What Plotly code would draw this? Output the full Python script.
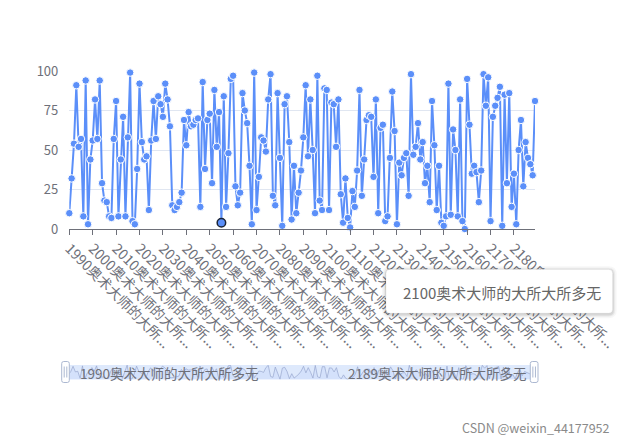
import plotly.graph_objects as go

# ---------------- data ----------------
years = list(range(1990, 2190))
categories = [f"{y}奥术大师的大所大所多无" for y in years]

values = [
    10, 32, 54, 91, 52, 57, 8, 94, 3, 44,
    56, 82, 57, 94, 29, 18, 17, 8, 7, 57,
    81, 8, 44, 71, 8, 58, 99, 5, 3, 38,
    92, 55, 44, 46, 12, 56, 81, 57, 84, 79,
    71, 92, 82, 65, 15, 12, 14, 17, 23, 69,
    53, 74, 65, 66, 69, 70, 14, 93, 38, 69,
    73, 29, 88, 52, 74, 4, 84, 14, 48, 95,
    97, 27, 15, 23, 86, 75, 67, 40, 3, 99,
    12, 33, 58, 56, 49, 82, 98, 21, 15, 86,
    45, 2, 79, 84, 55, 6, 40, 10, 23, 37,
    58, 91, 46, 82, 50, 10, 97, 18, 12, 89,
    88, 12, 80, 79, 52, 82, 22, 4, 32, 7,
    1, 24, 14, 37, 88, 21, 44, 69, 72, 71,
    33, 82, 10, 64, 66, 5, 8, 45, 87, 62,
    3, 42, 34, 45, 48, 21, 98, 47, 52, 67,
    44, 55, 29, 40, 17, 81, 53, 12, 40, 4,
    2, 8, 92, 9, 63, 50, 8, 82, 5, 0,
    95, 66, 35, 40, 36, 17, 37, 98, 78, 96,
    5, 71, 78, 83, 90, 2, 85, 29, 86, 14,
    35, 3, 50, 69, 27, 55, 45, 41, 34, 81,
]

tick_values = categories[::10]
tick_labels = [c[:11] + "..." for c in tick_values]
y_ticks = [0, 25, 50, 75, 100]
highlight_index = 65
tooltip_text = "2100奥术大师的大所大所多无"
slider_start_label = categories[0]
slider_end_label = categories[-1]
watermark = "CSDN @weixin_44177952"

# ---------------- layout helpers ----------------
W, H = 626, 443
FONT = "Noto Sans CJK SC"
LINE_COLOR = "#5b8ff9"
AXIS_TEXT = "#6E7079"


def fx(x):
    return x / W


def fy(y):
    return 1 - y / H


def rrect(x0, y0, x1, y1, r):
    # rounded rectangle path in paper coordinates (pixel inputs)
    pts = [
        f"M {fx(x0 + r)} {fy(y0)}",
        f"L {fx(x1 - r)} {fy(y0)}",
        f"Q {fx(x1)} {fy(y0)} {fx(x1)} {fy(y0 + r)}",
        f"L {fx(x1)} {fy(y1 - r)}",
        f"Q {fx(x1)} {fy(y1)} {fx(x1 - r)} {fy(y1)}",
        f"L {fx(x0 + r)} {fy(y1)}",
        f"Q {fx(x0)} {fy(y1)} {fx(x0)} {fy(y1 - r)}",
        f"L {fx(x0)} {fy(y0 + r)}",
        f"Q {fx(x0)} {fy(y0)} {fx(x0 + r)} {fy(y0)}",
        "Z",
    ]
    return " ".join(pts)


fig = go.Figure()

# main line
fig.add_trace(go.Scatter(
    x=categories, y=values, mode="lines+markers",
    line=dict(color=LINE_COLOR, width=2),
    marker=dict(size=7.5, color=LINE_COLOR, line=dict(color="white", width=1)),
    cliponaxis=False, hoverinfo="skip", xaxis="x", yaxis="y",
))
# emphasised point
fig.add_trace(go.Scatter(
    x=[categories[highlight_index]], y=[values[highlight_index]], mode="markers",
    marker=dict(size=8.5, color=LINE_COLOR, line=dict(color="#1b2437", width=1.5)),
    cliponaxis=False, hoverinfo="skip", xaxis="x", yaxis="y",
))
# data shadow for slider
fig.add_trace(go.Scatter(
    x=categories, y=values, mode="lines",
    line=dict(color="rgba(150,165,205,0.85)", width=0.8),
    fill="tozeroy", fillcolor="rgba(143,176,247,0.12)",
    hoverinfo="skip", xaxis="x2", yaxis="y2",
))

shapes = []
# slider band
shapes.append(dict(type="rect", xref="paper", yref="paper",
                   x0=fx(65.5), x1=fx(534), y0=fy(379.5), y1=fy(365),
                   fillcolor="rgba(135,175,244,0.28)", line=dict(width=0), layer="below"))
# slider handles
for hx0, hx1 in [(61.7, 69.3), (530.3, 538)]:
    shapes.append(dict(type="path", xref="paper", yref="paper",
                       path=rrect(hx0, 361.5, hx1, 382.5, 2),
                       fillcolor="white", line=dict(color="#ACB8D1", width=1), layer="above"))
    cx = (hx0 + hx1) / 2
    for dx in (-1.3, 1.3):
        shapes.append(dict(type="line", xref="paper", yref="paper",
                           x0=fx(cx + dx), x1=fx(cx + dx), y0=fy(366.5), y1=fy(377.5),
                           line=dict(color="#ACB8D1", width=1), layer="above"))
# tooltip shadow + box
for grow, alpha in [(4, 0.03), (2.5, 0.05), (1.2, 0.08)]:
    shapes.append(dict(type="path", xref="paper", yref="paper",
                       path=rrect(386 - grow, 269.3 - grow + 1, 612.7 + grow, 313.3 + grow + 1, 4 + grow),
                       fillcolor=f"rgba(0,0,0,{alpha})", line=dict(width=0), layer="above"))
shapes.append(dict(type="path", xref="paper", yref="paper",
                   path=rrect(386, 269.3, 612.7, 313.3, 4),
                   fillcolor="white", line=dict(color="rgba(0,0,0,0.06)", width=1), layer="above"))

annotations = [
    dict(text=tooltip_text, xref="paper", yref="paper", x=fx(400.7), y=fy(292.3),
         xanchor="left", yanchor="middle", showarrow=False,
         font=dict(family=FONT, size=15, color="#666666")),
    dict(text=slider_start_label, xref="paper", yref="paper", x=fx(78), y=fy(373),
         xanchor="left", yanchor="middle", showarrow=False,
         font=dict(family=FONT, size=13.5, color=AXIS_TEXT)),
    dict(text=slider_end_label, xref="paper", yref="paper", x=fx(527.5), y=fy(373),
         xanchor="right", yanchor="middle", showarrow=False,
         font=dict(family=FONT, size=13.5, color=AXIS_TEXT)),
    dict(text=watermark, xref="paper", yref="paper", x=fx(612), y=fy(427),
         xanchor="right", yanchor="middle", showarrow=False,
         font=dict(family=FONT, size=12.5, color="#8a8a8a")),
]

fig.update_layout(
    width=W, height=H,
    margin=dict(l=0, r=0, t=0, b=0),
    paper_bgcolor="white", plot_bgcolor="rgba(0,0,0,0)",
    showlegend=False,
    font=dict(family=FONT, color=AXIS_TEXT),
    xaxis=dict(
        type="category", domain=[fx(69.3), fx(535)], range=[0, len(categories) - 1],
        anchor="y", tickmode="array", tickvals=tick_values, ticktext=tick_labels,
        tickangle=45, ticks="outside", ticklen=5, tickcolor=AXIS_TEXT,
        showline=True, linecolor=AXIS_TEXT, linewidth=1, showgrid=False,
        tickfont=dict(family=FONT, size=14, color=AXIS_TEXT), automargin=False,
        fixedrange=True,
    ),
    yaxis=dict(
        domain=[fy(229), fy(71)], range=[0, 100], anchor="x",
        tickmode="array", tickvals=y_ticks, showgrid=True, gridcolor="#E0E6F1",
        zeroline=False, showline=False, ticks="", ticklabelstandoff=10,
        tickfont=dict(family=FONT, size=13, color=AXIS_TEXT), automargin=False,
        fixedrange=True,
    ),
    xaxis2=dict(
        type="category", domain=[fx(66), fx(534)], range=[0, len(categories) - 1],
        anchor="y2", visible=False, fixedrange=True,
    ),
    yaxis2=dict(
        domain=[fy(379.5), fy(365)], range=[0, 100], anchor="x2",
        visible=False, fixedrange=True,
    ),
    shapes=shapes,
    annotations=annotations,
)

fig.write_html("out.html")
